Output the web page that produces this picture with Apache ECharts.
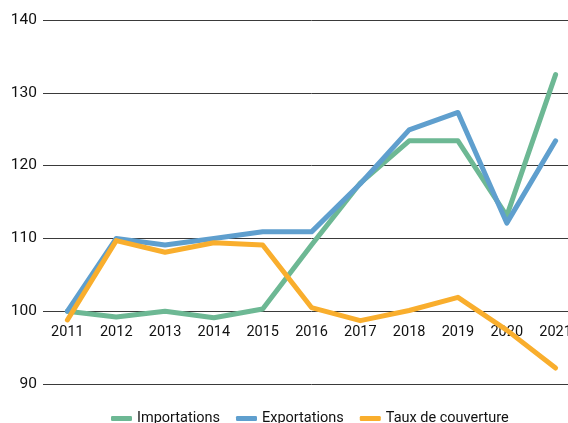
<!DOCTYPE html>
<html>
<head>
<meta charset="utf-8">
<script src="https://cdn.jsdelivr.net/npm/echarts@6/dist/echarts.min.js"></script>
<style>
  html, body { margin: 0; padding: 0; background: #fff; overflow: hidden; }
  #wrap { width: 568px; height: 423px; overflow: hidden; }
  #chart { width: 580px; height: 430px; }
</style>
</head>
<body>
<div id="wrap"><div id="chart"></div></div>
<script>
// Indices base 100 en 2011
const years = ['2011', '2012', '2013', '2014', '2015', '2016', '2017', '2018', '2019', '2020', '2021'];
const importations = [100, 99.2, 100, 99.1, 100.3, 109.1, 117.6, 123.4, 123.4, 113.1, 132.5];
const exportations = [100, 110, 109.1, 110, 110.9, 110.9, 117.5, 124.9, 127.3, 112.1, 123.4];
const tauxCouverture = [98.8, 109.7, 108.1, 109.4, 109.1, 100.5, 98.7, 100.1, 101.9, 97.4, 92.2];
const yTicks = [90, 100, 110, 120, 130, 140];

const FONT = 'Roboto, sans-serif';
const colors = { imp: '#6db894', exp: '#5f9fce', taux: '#f9ae2d' };

function lineSeries(name, data, color) {
  return {
    name: name,
    type: 'line',
    data: data,
    symbol: 'none',
    smooth: false,
    lineStyle: { color: color, width: 5, cap: 'round', join: 'round' },
    itemStyle: { color: color }
  };
}

const chart = echarts.init(document.getElementById('chart'), null, { renderer: 'canvas' });
chart.setOption({
  animation: false,
  grid: { left: 43, top: 20, right: 0, height: 364, containLabel: false },
  xAxis: {
    type: 'category',
    data: years,
    boundaryGap: true,
    position: 'bottom',
    offset: -73,
    axisLine: { show: false },
    axisTick: { show: false },
    axisLabel: { color: '#111', fontFamily: FONT, fontSize: 14.5, margin: 14 }
  },
  yAxis: {
    type: 'value',
    min: yTicks[0],
    max: yTicks[yTicks.length - 1],
    interval: 10,
    axisLine: { show: false },
    axisTick: { show: false },
    axisLabel: { color: '#111', fontFamily: FONT, fontSize: 15.5, margin: 6 },
    splitLine: { show: true, lineStyle: { color: '#3a3a3a', width: 1 } }
  },
  legend: {
    left: 106,
    top: 406,
    itemGap: 16,
    itemWidth: 21,
    itemHeight: 5,
    icon: 'roundRect',
    textStyle: { color: '#111', fontFamily: FONT, fontSize: 14.5 },
    data: ['Importations', 'Exportations', 'Taux de couverture']
  },
  series: [
    lineSeries('Importations', importations, colors.imp),
    lineSeries('Exportations', exportations, colors.exp),
    lineSeries('Taux de couverture', tauxCouverture, colors.taux)
  ]
});
</script>
</body>
</html>
